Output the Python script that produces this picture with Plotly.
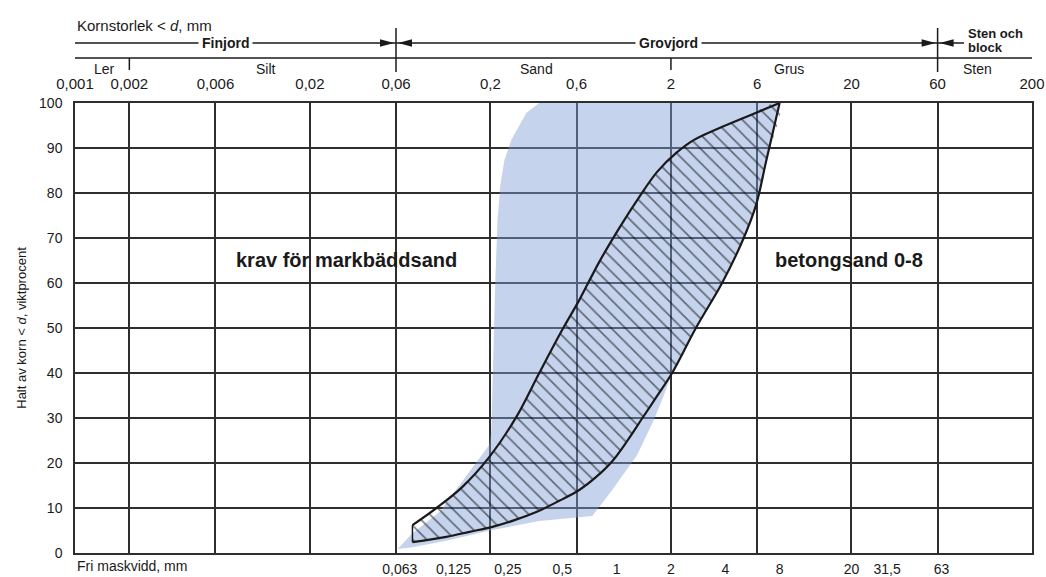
import numpy as np
import plotly.graph_objects as go

# ---------------- data ----------------
# upper scale: Kornstorlek < d, mm
top_ticks = [0.001, 0.002, 0.006, 0.02, 0.06, 0.2, 0.6, 2, 6, 20, 60, 200]
top_labels = ["0,001", "0,002", "0,006", "0,02", "0,06", "0,2", "0,6", "2", "6", "20", "60", "200"]
# lower scale: Fri maskvidd, mm (sieve openings)
sieve_ticks = [0.063, 0.125, 0.25, 0.5, 1, 2, 4, 8, 20, 31.5, 63]
sieve_labels = ["0,063", "0,125", "0,25", "0,5", "1", "2", "4", "8", "20", "31,5", "63"]
y_ticks = [0, 10, 20, 30, 40, 50, 60, 70, 80, 90, 100]

# fraction names and their centre positions (mm)
fraction_names = ["Ler", "Silt", "Sand", "Grus", "Sten"]
fraction_pos = [0.00145, 0.0115, 0.36, 9.0, 100]
# group names
group_names = ["Finjord", "Grovjord"]
group_pos = [0.0068, 1.95]
group_bounds = [0.06, 60]      # boundaries with arrows
minor_bounds = [0.002, 2]      # short ticks in fraction row

# betongsand 0-8 : fine (upper) limit curve
betong_fine_d = [0.074, 0.1005, 0.140, 0.197, 0.278, 0.373, 0.500, 0.621, 0.802, 1.034, 1.334, 1.677, 2.14,
                 2.685, 3.69, 5.21, 8.0]
betong_fine_p = [6.2, 10.0, 14.7, 21.3, 30.2, 40.0, 49.6, 56.2, 64.7, 72.2, 79.1, 84.7, 88.9,
                 91.8, 94.4, 96.9, 100]
# betongsand 0-8 : coarse (lower) limit curve
betong_coarse_d = [8.0, 6.72, 5.92, 4.95, 3.84, 2.75, 2.03, 1.677, 1.39, 1.145, 0.946, 0.771, 0.621, 0.481,
                   0.359, 0.272, 0.205, 0.153, 0.114, 0.074]
betong_coarse_p = [100, 86.9, 77.3, 69.1, 60, 50, 40, 34.9, 30, 24.9, 20.4, 16.9, 14, 11.6,
                   9.1, 7.3, 5.8, 4.7, 3.6, 2.4]

# krav för markbäddsand : envelope
mark_d = [0.373, 0.316, 0.261, 0.239, 0.227, 0.219, 0.213, 0.2077, 0.2025, 0.197, 0.153, 0.1045, 0.074, 0.0612,
          0.074, 0.114, 0.205, 0.373, 0.733, 0.946, 1.30, 1.61, 1.83, 2.03, 2.75, 3.84, 4.95, 5.92, 6.72, 8.0]
mark_p = [100, 97.8, 91.8, 87.3, 81.8, 74, 60.7, 42.9, 27.3, 24, 18, 9.1, 4.4, 0.9,
          1.3, 2.7, 5.1, 7.1, 8.2, 14, 21.8, 29.6, 35.1, 40, 50, 60, 69.1, 77.3, 86.9, 100]

label_mark = ("krav för markbäddsand", 0.0319, 65.1)
label_betong = ("betongsand 0-8", 19.3, 65.1)

# ---------------- style ----------------
FONT = "Liberation Sans, Arial, sans-serif"
INK = "#1a1a1a"
GRID = "#2e2e2e"
W_PX, H_PX = 1046, 577
ML, MR, MT, MB = 75, 14, 103, 24
PW, PH = W_PX - ML - MR, H_PX - MT - MB

LOG0, LOG1 = np.log10(top_ticks[0]), np.log10(top_ticks[-1])


def xp(v):
    return (np.log10(v) - LOG0) / (LOG1 - LOG0)


def ya(px_above):
    return 1 + px_above / PH


fig = go.Figure()

# markbäddsand envelope (semi transparent so grid shows through)
fig.add_trace(go.Scatter(x=mark_d, y=mark_p, mode="lines", fill="toself",
                         fillcolor="rgba(126,157,213,0.45)", line=dict(width=0),
                         hoverinfo="skip"))

# betongsand hatched band
SM = 1.0
band_d = betong_fine_d + betong_coarse_d[1:]
band_p = betong_fine_p + betong_coarse_p[1:]
fig.add_trace(go.Scatter(x=band_d, y=band_p, mode="lines", fill="toself",
                         fillcolor="rgba(0,0,0,0)",
                         line=dict(width=0, shape="spline", smoothing=SM),
                         fillpattern=dict(shape="\\", fgcolor="#000", bgcolor="rgba(0,0,0,0)",
                                          size=10, solidity=0.17),
                         hoverinfo="skip"))
fig.add_trace(go.Scatter(x=betong_fine_d, y=betong_fine_p, mode="lines",
                         line=dict(color=INK, width=2.2, shape="spline", smoothing=SM),
                         hoverinfo="skip"))
fig.add_trace(go.Scatter(x=betong_coarse_d, y=betong_coarse_p, mode="lines",
                         line=dict(color=INK, width=2.2, shape="spline", smoothing=SM),
                         hoverinfo="skip"))
fig.add_trace(go.Scatter(x=[betong_fine_d[0], betong_coarse_d[-1]],
                         y=[betong_fine_p[0], betong_coarse_p[-1]], mode="lines",
                         line=dict(color=INK, width=1.5), hoverinfo="skip"))
# anchor trace for lower sieve axis
fig.add_trace(go.Scatter(x=[sieve_ticks[0]], y=[0], xaxis="x2", mode="markers",
                         marker=dict(opacity=0), hoverinfo="skip"))

axis_common = dict(type="log", range=[LOG0, LOG1], fixedrange=True, zeroline=False,
                   automargin=False)
fig.update_layout(
    width=W_PX, height=H_PX,
    margin=dict(l=ML, r=MR, t=MT, b=MB, autoexpand=False),
    plot_bgcolor="white", paper_bgcolor="white",
    showlegend=False,
    font=dict(family=FONT, size=15, color=INK),
    xaxis=dict(**axis_common, side="top", tickvals=top_ticks, ticktext=top_labels,
               showgrid=True, gridcolor=GRID, gridwidth=1.5,
               showline=True, linecolor=GRID, linewidth=1.5, mirror=True,
               ticks="outside", ticklen=6, tickcolor="rgba(0,0,0,0)",
               tickfont=dict(size=15)),
    xaxis2=dict(**axis_common, overlaying="x", side="bottom", tickvals=sieve_ticks,
                ticktext=sieve_labels, showgrid=False, showline=False,
                ticks="outside", ticklen=3, tickcolor="rgba(0,0,0,0)",
                tickfont=dict(size=14)),
    yaxis=dict(range=[0, 100], tickvals=y_ticks, fixedrange=True, zeroline=False,
               automargin=False,
               showgrid=True, gridcolor=GRID, gridwidth=1.5,
               showline=True, linecolor=GRID, linewidth=1.5, mirror=True,
               ticks="outside", ticklen=8, tickcolor="rgba(0,0,0,0)",
               tickfont=dict(size=14),
               title=dict(text="Halt av korn &lt; <i>d</i>, viktprocent",
                          font=dict(size=13), standoff=10)),
)

shapes = []
ann = []
line_kw = dict(color=INK, width=1.5)
# header horizontal lines
shapes.append(dict(type="line", xref="paper", yref="paper", x0=0, x1=xp(84),
                   y0=ya(60), y1=ya(60), line=line_kw))
shapes.append(dict(type="line", xref="paper", yref="paper", x0=0, x1=1,
                   y0=ya(45), y1=ya(45), line=line_kw))
# group boundaries with arrows
ax_px = 1 / PW
for b in group_bounds:
    xb = xp(b)
    shapes.append(dict(type="line", xref="paper", yref="paper", x0=xb, x1=xb,
                       y0=ya(31), y1=ya(75), line=line_kw))
    yc, hh = ya(60), 3.8 / PH
    tipL, baseL = xb - 2 * ax_px, xb - 16 * ax_px
    tipR, baseR = xb + 2 * ax_px, xb + 16 * ax_px
    shapes.append(dict(type="path", xref="paper", yref="paper",
                       path=f"M {baseL},{yc - hh} L {tipL},{yc} L {baseL},{yc + hh} Z",
                       fillcolor=INK, line=dict(width=0)))
    shapes.append(dict(type="path", xref="paper", yref="paper",
                       path=f"M {baseR},{yc - hh} L {tipR},{yc} L {baseR},{yc + hh} Z",
                       fillcolor=INK, line=dict(width=0)))
for b in minor_bounds:
    xb = xp(b)
    shapes.append(dict(type="line", xref="paper", yref="paper", x0=xb, x1=xb,
                       y0=ya(33), y1=ya(45), line=line_kw))

ann.append(dict(text="Kornstorlek &lt; <i>d</i>, mm", xref="paper", yref="paper",
                x=0, y=ya(78), xanchor="left", yanchor="middle", showarrow=False,
                font=dict(size=15)))
for name, pos in zip(group_names, group_pos):
    ann.append(dict(text=f"<b>{name}</b>", xref="paper", yref="paper", x=xp(pos), y=ya(60),
                    xanchor="center", yanchor="middle", showarrow=False,
                    bgcolor="white", borderpad=3, font=dict(size=14)))
ann.append(dict(text="<b>Sten och</b>", xref="paper", yref="paper", x=xp(86), y=ya(70),
                xanchor="left", yanchor="middle", showarrow=False, font=dict(size=13)))
ann.append(dict(text="<b>block</b>", xref="paper", yref="paper", x=xp(86), y=ya(56),
                xanchor="left", yanchor="middle", showarrow=False, font=dict(size=13)))
for name, pos in zip(fraction_names, fraction_pos):
    ann.append(dict(text=name, xref="paper", yref="paper", x=xp(pos), y=ya(34),
                    xanchor="center", yanchor="middle", showarrow=False, font=dict(size=14)))
ann.append(dict(text="Fri maskvidd, mm", xref="paper", yref="paper", x=0, y=-13 / PH,
                xanchor="left", yanchor="middle", showarrow=False, font=dict(size=14)))
for txt, d, p in (label_mark, label_betong):
    ann.append(dict(text=f"<b>{txt}</b>", xref="x", yref="y", x=np.log10(d), y=p,
                    xanchor="center", yanchor="middle", showarrow=False, font=dict(size=20)))

fig.update_layout(shapes=shapes, annotations=ann)
fig.write_html("out.html", config={"displayModeBar": False},
               post_script="document.body.style.margin='0px';")
